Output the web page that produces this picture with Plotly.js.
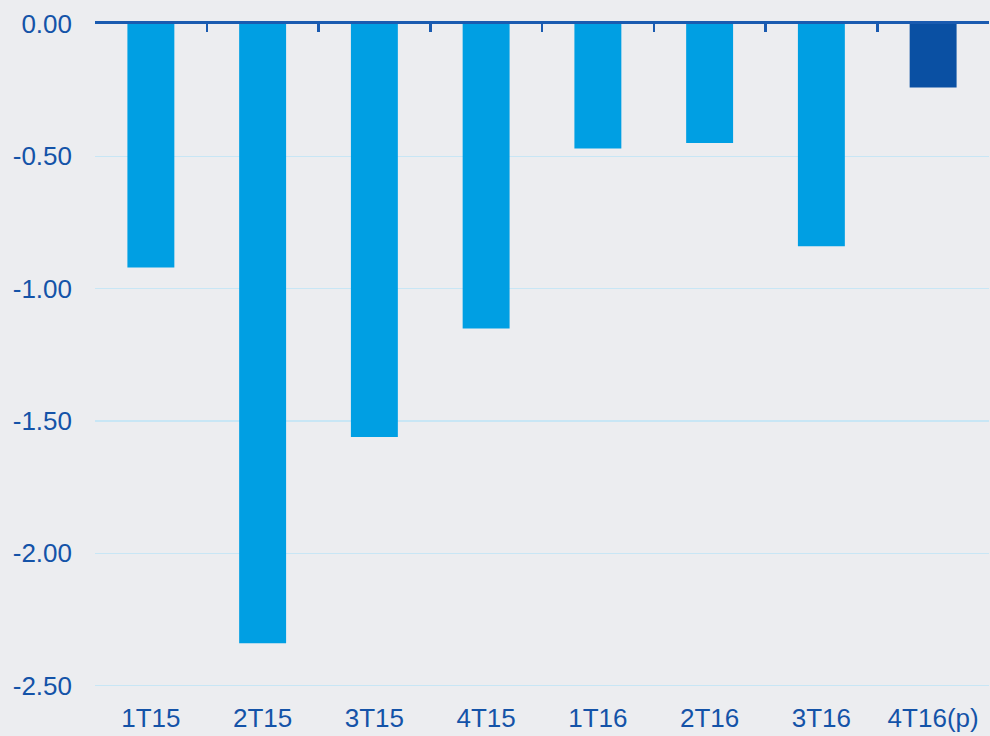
<!DOCTYPE html>
<html>
<head>
<meta charset="utf-8">
<script src="https://cdn.plot.ly/plotly-3.0.1.min.js"></script>
<style>
  html, body { margin: 0; padding: 0; background: #ECEDF0; }
  #chart { width: 990px; height: 736px; }
</style>
</head>
<body>
<div id="chart"></div>
<script>
// Data
var categories = ["1T15", "2T15", "3T15", "4T15", "1T16", "2T16", "3T16", "4T16(p)"];
var values = [-0.92, -2.34, -1.56, -1.15, -0.47, -0.45, -0.84, -0.24];
var yTickVals = [0, -0.5, -1, -1.5, -2, -2.5];
var yTickText = ["0.00", "-0.50", "-1.00", "-1.50", "-2.00", "-2.50"];

var lightBlue = "#009FE3";
var darkBlue = "#0A50A3";
var textColor = "#1453A8";
var axisColor = "#1A5BB0";
var barColors = categories.map(function (c) { return c.indexOf("(p)") >= 0 ? darkBlue : lightBlue; });

var boundaryTicks = [];
for (var i = 0; i <= categories.length; i++) boundaryTicks.push(i - 0.5);

var traces = [
  {
    type: "bar",
    x: categories,
    y: values,
    marker: { color: barColors, line: { width: 0 } },
    hoverinfo: "x+y",
    xaxis: "x",
    yaxis: "y"
  },
  {
    // invisible helper so the top (zero) axis with boundary ticks is drawn
    type: "scatter",
    mode: "markers",
    x: boundaryTicks,
    y: boundaryTicks.map(function () { return 0; }),
    marker: { opacity: 0, size: 1 },
    hoverinfo: "skip",
    xaxis: "x2",
    yaxis: "y"
  }
];

var layout = {
  width: 990,
  height: 736,
  margin: { l: 95, r: 1, t: 24, b: 45, pad: 0 },
  paper_bgcolor: "#ECEDF0",
  plot_bgcolor: "#ECEDF0",
  showlegend: false,
  bargap: 0.58,
  font: { family: "Liberation Sans, Arial, sans-serif", size: 26, color: textColor },
  xaxis: {
    type: "category",
    range: [-0.5, categories.length - 0.5],
    showline: false,
    showgrid: false,
    zeroline: false,
    ticks: "",
    ticklabelstandoff: 9,
    tickfont: { size: 26, color: textColor },
    fixedrange: true
  },
  xaxis2: {
    type: "linear",
    overlaying: "x",
    side: "top",
    anchor: "y",
    range: [-0.5, categories.length - 0.5],
    tickmode: "array",
    tickvals: boundaryTicks,
    showticklabels: false,
    ticks: "inside",
    ticklen: 8,
    tickwidth: 2.5,
    tickcolor: axisColor,
    showline: true,
    linecolor: axisColor,
    linewidth: 3,
    showgrid: false,
    zeroline: false,
    fixedrange: true
  },
  yaxis: {
    range: [-2.52, 0],
    tickmode: "array",
    tickvals: yTickVals,
    ticktext: yTickText,
    showline: false,
    zeroline: false,
    showgrid: true,
    gridcolor: "#C8E6F5",
    gridwidth: 1.5,
    ticks: "",
    ticklabelstandoff: 22,
    tickfont: { size: 26, color: textColor },
    fixedrange: true
  }
};

Plotly.newPlot("chart", traces, layout, { displayModeBar: false, staticPlot: true });
</script>
</body>
</html>
